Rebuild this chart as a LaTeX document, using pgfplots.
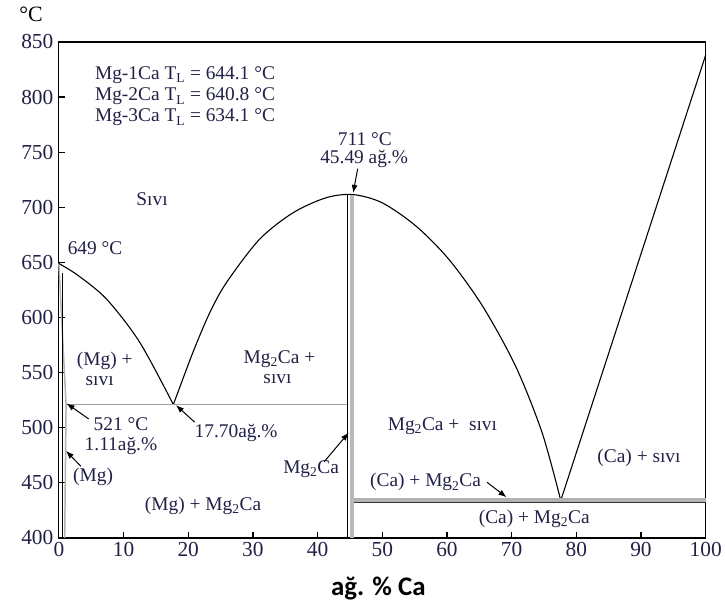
\documentclass[border=0pt]{standalone}
\usepackage{fontspec}
\setmainfont{Liberation Serif}
\newfontfamily\lblfont{Carlito}
\usepackage{pgfplots}
\pgfplotsset{compat=1.18}
\usetikzlibrary{arrows.meta}
\definecolor{txt}{rgb}{0.13,0.13,0.28}
\begin{document}
\begin{tikzpicture}[x=1bp,y=1bp,
  lab/.style={font=\fontsize{19.5}{22}\selectfont, text=txt, inner sep=0pt},
  arr/.style={-{Latex[length=8bp,width=6bp]}, line width=1pt, black}]
\path (0,0) rectangle (725,610);
\begin{axis}[at={(59bp,71bp)}, anchor=south west,
  width=648bp, height=497bp, scale only axis,
  xmin=0, xmax=100, ymin=400, ymax=850,
  xtick={0,10,...,100}, ytick={400,450,...,850},
  tick align=inside, xtick pos=bottom, ytick pos=left,
  major tick length=6bp,
  tick style={black, line width=1.2pt},
  axis line style={line width=1.2pt},
  ticklabel style={font=\fontsize{21.5}{22}\selectfont, text=txt},
  xticklabel style={yshift=-1bp},
  yticklabel style={xshift=-2bp},
  /pgf/number format/assume math mode=true,
  clip=false,
]
% Mg-side solidus / solvus
\addplot[gray!60, line width=1.5pt] coordinates {(0,649)(1.11,521)(0.9,400)};
\addplot[black, line width=1pt] coordinates {(0.5,640)(0.5,400)};
% liquidus Mg side
\addplot[black, line width=1.1pt, smooth] coordinates {(0,649)(3,638)(7.4,616.5)(12.5,577.5)(17.7,521)};
% Mg2Ca dome
\addplot[black, line width=1.1pt, smooth] coordinates {(17.7,521)(20.7,568)(23.3,604)(25.9,631.6)(31,670.8)(36.2,695)(41.3,708.6)(45.49,711.5)(50,704)(55.2,683)(60.3,652.7)(65.5,610.4)(70.6,556)(74.7,495.7)(77.6,434)};
% Ca liquidus
\addplot[black, line width=1.1pt] coordinates {(77.6,434)(100,838)};
% Mg2Ca compound line
\addplot[gray!55, line width=3.5bp] coordinates {(45.3,400)(45.3,711)};
\addplot[black, line width=1.2pt] coordinates {(44.6,400)(44.6,711)};
% eutectic horizontals
\addplot[gray!75, line width=1.3pt] coordinates {(1.11,521)(44.6,521)};
\addplot[gray!60, line width=4bp] coordinates {(45.6,434)(100,434)};
\addplot[gray!40!black, line width=0.4pt] coordinates {(45.6,432)(100,432)};

% texts
\node[lab, anchor=west] at (axis cs:5.56,820.3) {Mg-1Ca T\textsubscript{L} = 644.1 °C};
\node[lab, anchor=west] at (axis cs:5.56,800.4) {Mg-2Ca T\textsubscript{L} = 640.8 °C};
\node[lab, anchor=west] at (axis cs:5.56,781.3) {Mg-3Ca T\textsubscript{L} = 634.1 °C};
\node[lab] at (axis cs:47.3,762) {711 °C};
\node[lab] at (axis cs:47.2,744) {45.49 ağ.\%};
\draw[arr] (axis cs:46.2,735) -- (axis cs:45.5,713);
\node[lab] at (axis cs:14.4,707) {Sıvı};
\node[lab] at (axis cs:5.6,663.3) {649 °C};
\node[lab] at (axis cs:7.1,560.6) {(Mg) +};
\node[lab] at (axis cs:6.3,542.5) {sıvı};
\node[lab] at (axis cs:34.1,562.1) {Mg\textsubscript{2}Ca +};
\node[lab] at (axis cs:33.8,544) {sıvı};
\node[lab] at (axis cs:9.6,503.3) {521 °C};
\node[lab] at (axis cs:9.6,483.6) {1.11ağ.\%};
\draw[arr] (axis cs:4.6,508) -- (axis cs:1.2,522);
\node[lab] at (axis cs:27.4,495.7) {17.70ağ.\%};
\draw[arr] (axis cs:21.0,505) -- (axis cs:18.1,520.5);
\node[lab] at (axis cs:5.3,455) {(Mg)};
\draw[arr] (axis cs:3.4,465) -- (axis cs:1.1,479);
\node[lab] at (axis cs:22.3,429.3) {(Mg) + Mg\textsubscript{2}Ca};
\node[lab] at (axis cs:39.0,462.5) {Mg\textsubscript{2}Ca};
\draw[arr] (axis cs:41.0,469) -- (axis cs:44.8,495.5);
\node[lab] at (axis cs:59.3,501.7) {Mg\textsubscript{2}Ca +\ \ sıvı};
\node[lab] at (axis cs:89.7,473) {(Ca) +\ sıvı};
\node[lab] at (axis cs:56.7,450.5) {(Ca) + Mg\textsubscript{2}Ca};
\draw[arr] (axis cs:66.2,450.5) -- (axis cs:69.2,437);
\node[lab] at (axis cs:73.5,417.2) {(Ca) + Mg\textsubscript{2}Ca};
% axis titles
\node[font=\fontsize{22}{22}\selectfont, text=black, inner sep=0pt] at (axis cs:-4.3,874.6) {°C};
\node[font=\lblfont\bfseries\fontsize{27}{27}\selectfont, text=black, inner sep=0pt] at (axis cs:49.4,353.8) {ağ. \% Ca};
\end{axis}
\end{tikzpicture}
\end{document}
